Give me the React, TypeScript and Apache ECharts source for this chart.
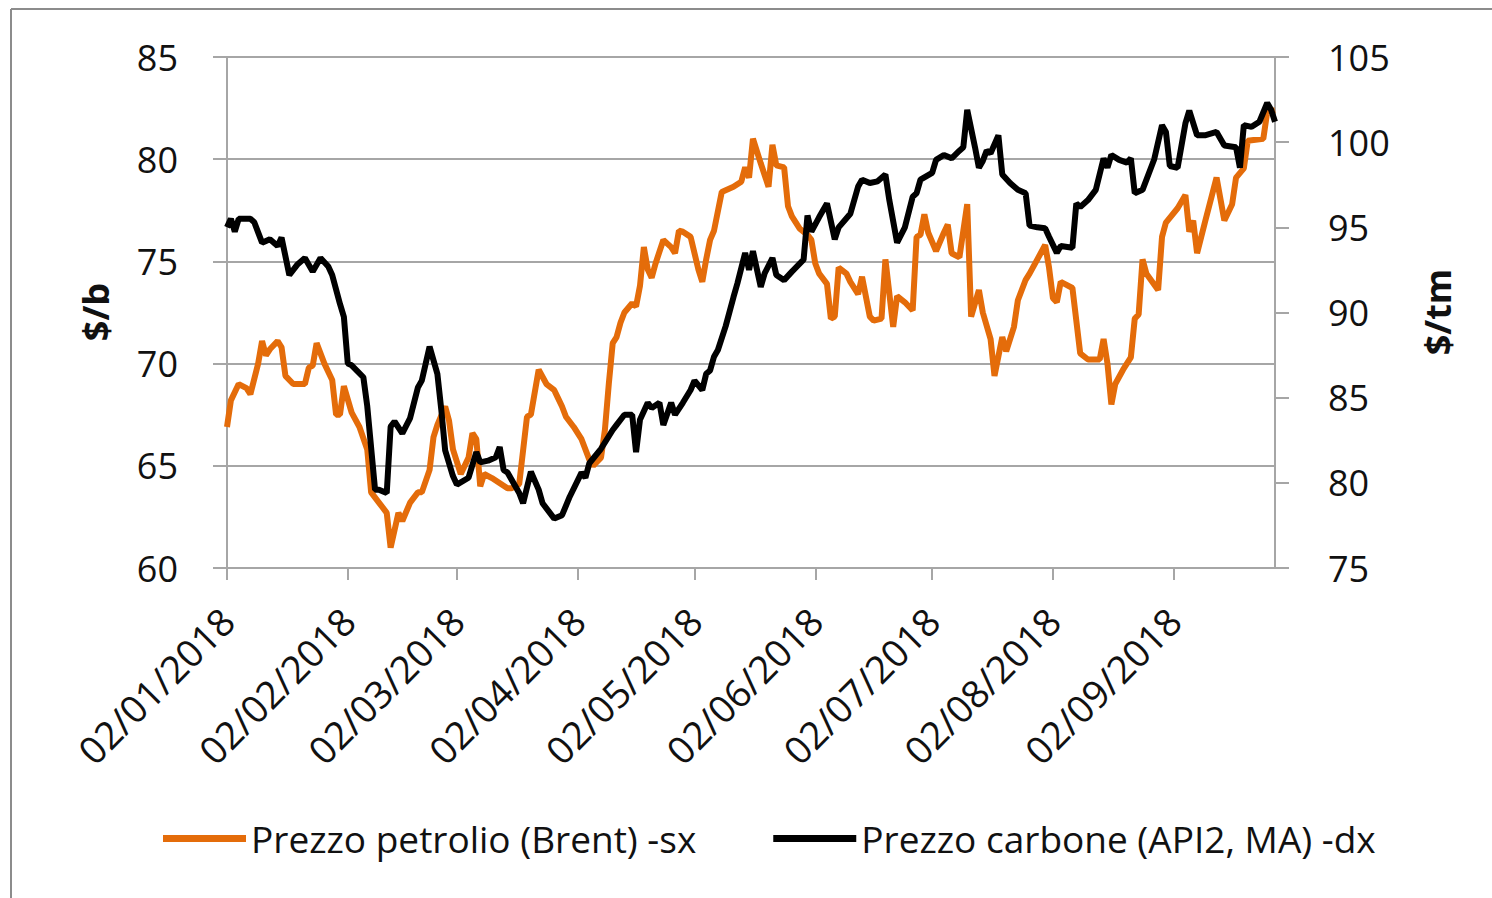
import React, { useEffect, useRef } from "react";
import * as echarts from "echarts";

// ---- data ----
const startDate = "2018-01-02";
const endDate = "2018-09-28";

const brentDates = [
  "01-02","01-03","01-05","01-07","01-08","01-10","01-11","01-12","01-13","01-15","01-16","01-17","01-19","01-22","01-23","01-24","01-25","01-27","01-29","01-30","01-31",
  "02-01","02-03","02-05","02-07","02-08","02-10","02-12","02-13","02-15","02-16","02-18","02-20","02-21","02-23","02-24","02-25","02-27","02-28",
  "03-01","03-03","03-05","03-06","03-07","03-08","03-09","03-11","03-15","03-16","03-18","03-20","03-21","03-23","03-25","03-27","03-28","03-29","03-30",
  "04-01","04-03","04-05","04-06","04-08","04-09","04-10","04-11","04-12","04-13","04-14","04-16","04-17","04-18","04-19","04-20","04-21","04-22","04-24","04-26","04-27","04-28","04-29",
  "05-01","05-03","05-04","05-05","05-06","05-07","05-09","05-12","05-14","05-15","05-16","05-17","05-19","05-21","05-22","05-23","05-25","05-26","05-27","05-29","05-31",
  "06-01","06-02","06-03","06-05","06-06","06-07","06-08","06-10","06-11","06-13","06-14","06-16","06-17","06-19","06-20","06-22","06-23","06-25","06-27","06-28","06-29","06-30",
  "07-01","07-03","07-05","07-06","07-07","07-09","07-11","07-12","07-14","07-15","07-17","07-18","07-20","07-21","07-23","07-24","07-26","07-27","07-29","07-31",
  "08-01","08-02","08-03","08-04","08-05","08-07","08-08","08-09","08-11","08-14","08-15","08-16","08-17","08-18","08-20","08-22","08-23","08-24","08-25","08-26","08-29","08-30","08-31",
  "09-03","09-05","09-06","09-07","09-08","09-10","09-13","09-15","09-17","09-18","09-20","09-21","09-25","09-26","09-28"
];
const brentValues = [
  66.9,68.2,69.0,68.8,68.5,70.0,71.1,70.4,70.7,71.1,70.8,69.4,69.0,69.0,69.8,69.9,71.0,70.0,69.2,67.5,67.5,
  68.9,67.6,66.9,65.8,63.7,63.2,62.7,61.0,62.7,62.3,63.2,63.7,63.7,64.8,66.4,67.0,67.9,67.2,
  65.8,64.6,65.4,66.6,66.3,64.0,64.6,64.4,63.9,63.9,64.1,67.4,67.5,69.7,69.0,68.7,68.3,67.9,67.4,
  66.9,66.3,65.3,65.0,65.4,66.75,69.0,71.0,71.3,72.0,72.5,72.95,72.8,73.8,75.7,74.6,74.2,74.9,76.05,75.7,75.4,76.5,76.45,
  76.2,74.6,74.0,75.1,76.05,76.5,78.4,78.65,78.9,79.6,79.1,81.0,79.8,78.65,80.7,79.7,79.6,77.7,77.2,76.6,76.3,
  76.05,74.9,74.4,73.9,72.2,72.3,74.7,74.4,74.0,73.4,74.25,72.3,72.1,72.2,75.1,71.8,73.3,73.0,72.6,76.2,76.3,77.3,
  76.4,75.5,76.4,76.8,75.4,75.2,77.8,72.3,73.6,72.5,71.2,69.4,71.3,70.6,71.8,73.1,74.1,74.4,75.1,75.8,
  74.7,73.2,73.0,74.0,73.9,73.7,72.1,70.5,70.2,70.2,71.2,70.0,68.0,69.0,69.7,70.3,72.2,72.4,75.1,74.4,73.6,76.2,76.9,
  77.6,78.25,76.45,77.0,75.4,76.9,79.1,77.0,77.8,79.1,79.55,80.9,81.0,82.3,82.4
];

const coalDates = [
  "01-02","01-03","01-04","01-05","01-08","01-09","01-11","01-13","01-15","01-16","01-18","01-20","01-22","01-24","01-26","01-28","01-29","01-31",
  "02-01","02-02","02-03","02-06","02-07","02-09","02-10","02-12","02-13","02-14","02-16","02-18","02-20","02-21","02-22","02-23","02-25","02-26","02-27",
  "03-01","03-02","03-05","03-07","03-08","03-10","03-12","03-13","03-14","03-15","03-18","03-19","03-21","03-23","03-24","03-27","03-29","03-31",
  "04-03","04-04","04-05","04-08","04-11","04-12","04-14","04-16","04-17","04-18","04-20","04-21","04-23","04-24","04-26","04-27","04-29",
  "05-01","05-02","05-04","05-05","05-06","05-07","05-08","05-10","05-12","05-13","05-15","05-16","05-17","05-19","05-20","05-22","05-23","05-25","05-27","05-30","05-31",
  "06-01","06-03","06-05","06-07","06-08","06-11","06-13","06-14","06-16","06-18","06-20","06-21","06-23","06-25","06-27","06-28","06-29",
  "07-02","07-03","07-05","07-07","07-09","07-10","07-11","07-13","07-14","07-15","07-16","07-17","07-19","07-20","07-22","07-24","07-26","07-27","07-29","07-31",
  "08-01","08-03","08-04","08-07","08-08","08-09","08-11","08-13","08-15","08-16","08-17","08-19","08-21","08-22","08-23","08-25","08-28","08-30","08-31",
  "09-01","09-03","09-05","09-06","09-08","09-10","09-13","09-15","09-18","09-19","09-20","09-22","09-24","09-26","09-27","09-28"
];
const coalValues = [
  95.0,95.5,94.75,95.5,95.5,95.3,94.1,94.3,93.9,94.4,92.2,92.8,93.2,92.4,93.2,92.7,92.2,90.5,
  89.75,87.0,86.9,86.2,84.5,79.6,79.6,79.4,83.3,83.6,82.9,83.8,85.6,86.0,87.0,88.0,86.4,84.3,81.9,
  80.4,79.9,80.3,81.8,81.2,81.3,81.5,82.1,80.75,80.6,79.4,78.8,80.65,79.6,78.8,77.9,78.1,79.2,
  80.6,80.3,81.15,82.0,83.1,83.4,84.0,84.0,81.8,83.7,84.7,84.4,84.7,83.4,84.7,84.0,84.7,
  85.45,86.0,85.45,86.4,86.6,87.4,87.8,89.2,90.9,91.7,93.5,92.5,93.6,91.5,92.3,93.2,92.2,91.9,92.4,93.1,95.7,
  94.75,95.6,96.4,94.3,95.0,95.8,97.4,97.8,97.6,97.7,98.1,96.6,94.1,95.0,96.8,97.0,97.8,
  98.2,98.96,99.25,99.05,99.5,99.7,101.9,99.7,98.5,98.9,99.5,99.35,100.4,98.1,97.6,97.2,97.0,95.1,95.0,94.95,
  94.45,93.5,93.9,93.8,96.4,96.2,96.6,97.2,99.05,98.5,99.25,98.96,98.8,99.05,97.0,97.2,99.0,101.0,100.6,
  98.6,98.5,101.1,101.85,100.4,100.4,100.6,99.8,99.7,98.5,101.0,100.9,101.2,102.3,101.9,101.2
];

const brentName = "Prezzo petrolio (Brent) -sx";
const coalName = "Prezzo carbone (API2, MA) -dx";
const leftAxisName = "$/b";
const rightAxisName = "$/tm";
const year = "2018";

const FONT = "'Open Sans', 'Noto Sans', sans-serif";
const TEXT = "#111111";
const GRID = "#a6a6a6";
const ORANGE = "#E46C0A";

function buildDays(start: string, end: string): string[] {
  const out: string[] = [];
  const d = new Date(start + "T00:00:00Z");
  const e = new Date(end + "T00:00:00Z");
  while (d <= e) {
    out.push(d.toISOString().slice(0, 10));
    d.setUTCDate(d.getUTCDate() + 1);
  }
  return out;
}

function place(days: string[], dates: string[], values: number[]) {
  const idx = new Map(days.map((c, i) => [c, i]));
  const arr: (number | null)[] = new Array(days.length).fill(null);
  dates.forEach((md, i) => {
    const k = idx.get(year + "-" + md);
    if (k !== undefined) arr[k] = values[i];
  });
  return arr;
}

export default function App() {
  const ref = useRef<HTMLDivElement>(null);
  useEffect(() => {
    if (!ref.current) return;
    const chart = echarts.init(ref.current, undefined, { renderer: "svg" });
    const days = buildDays(startDate, endDate);
    const isMonthTick = (_i: number, v: string) => v.slice(8) === "02";
    chart.setOption({
      animation: false,
      backgroundColor: "#ffffff",
      grid: { left: 227, right: 217, top: 57, bottom: 330, containLabel: false },
      xAxis: {
        type: "category",
        data: days,
        boundaryGap: false,
        axisLine: { show: true, lineStyle: { color: GRID, width: 2 } },
        axisTick: { show: true, interval: isMonthTick, length: 12, lineStyle: { color: GRID, width: 2 } },
        axisLabel: {
          interval: isMonthTick,
          rotate: 45,
          margin: 46,
          fontSize: 38,
          fontFamily: FONT,
          color: TEXT,
          formatter: (v: string) => `${v.slice(8, 10)}/${v.slice(5, 7)}/${v.slice(0, 4)}`,
        },
        splitLine: { show: false },
      },
      yAxis: [
        {
          type: "value",
          position: "left",
          min: 60,
          max: 85,
          interval: 5,
          axisLine: { show: true, lineStyle: { color: GRID, width: 2 } },
          axisTick: { show: true, length: 14, lineStyle: { color: GRID, width: 2 } },
          splitLine: { show: true, lineStyle: { color: GRID, width: 2 } },
          axisLabel: { margin: 49, fontSize: 36, fontFamily: FONT, color: TEXT },
        },
        {
          type: "value",
          position: "right",
          min: 75,
          max: 105,
          interval: 5,
          axisLine: { show: true, lineStyle: { color: GRID, width: 2 } },
          axisTick: { show: true, length: 14, lineStyle: { color: GRID, width: 2 } },
          splitLine: { show: false },
          axisLabel: { margin: 53, fontSize: 36, fontFamily: FONT, color: TEXT },
        },
      ],
      legend: {
        left: 163,
        top: 820,
        padding: 0,
        icon: "rect",
        itemWidth: 83,
        itemHeight: 7,
        itemGap: 77,
        textStyle: { fontSize: 37, fontFamily: FONT, color: TEXT },
        data: [brentName, coalName],
      },
      series: [
        {
          name: brentName,
          type: "line",
          yAxisIndex: 0,
          data: place(days, brentDates, brentValues),
          connectNulls: true,
          showSymbol: false,
          symbol: "none",
          lineStyle: { color: ORANGE, width: 6 },
          itemStyle: { color: ORANGE },
        },
        {
          name: coalName,
          type: "line",
          yAxisIndex: 1,
          data: place(days, coalDates, coalValues),
          connectNulls: true,
          showSymbol: false,
          symbol: "none",
          lineStyle: { color: "#000000", width: 6 },
          itemStyle: { color: "#000000" },
        },
      ],
      graphic: [
        {
          type: "line",
          shape: { x1: 11, y1: 9, x2: 1492, y2: 9 },
          style: { stroke: "#8c8c8c", lineWidth: 2 },
          silent: true,
        },
        {
          type: "line",
          shape: { x1: 11, y1: 9, x2: 11, y2: 898 },
          style: { stroke: "#8c8c8c", lineWidth: 2 },
          silent: true,
        },
        {
          type: "text",
          x: 95,
          y: 312,
          rotation: Math.PI / 2,
          style: {
            text: leftAxisName,
            fontSize: 36,
            fontWeight: "bold",
            fontFamily: FONT,
            fill: TEXT,
            textAlign: "center",
            textVerticalAlign: "middle",
          },
        },
        {
          type: "text",
          x: 1437,
          y: 312,
          rotation: Math.PI / 2,
          style: {
            text: rightAxisName,
            fontSize: 36,
            fontWeight: "bold",
            fontFamily: FONT,
            fill: TEXT,
            textAlign: "center",
            textVerticalAlign: "middle",
          },
        },
      ],
    });
    return () => chart.dispose();
  }, []);
  return (
    <div
      ref={ref}
      style={{ position: "absolute", left: 0, top: 0, width: 1492, height: 898 }}
    />
  );
}
